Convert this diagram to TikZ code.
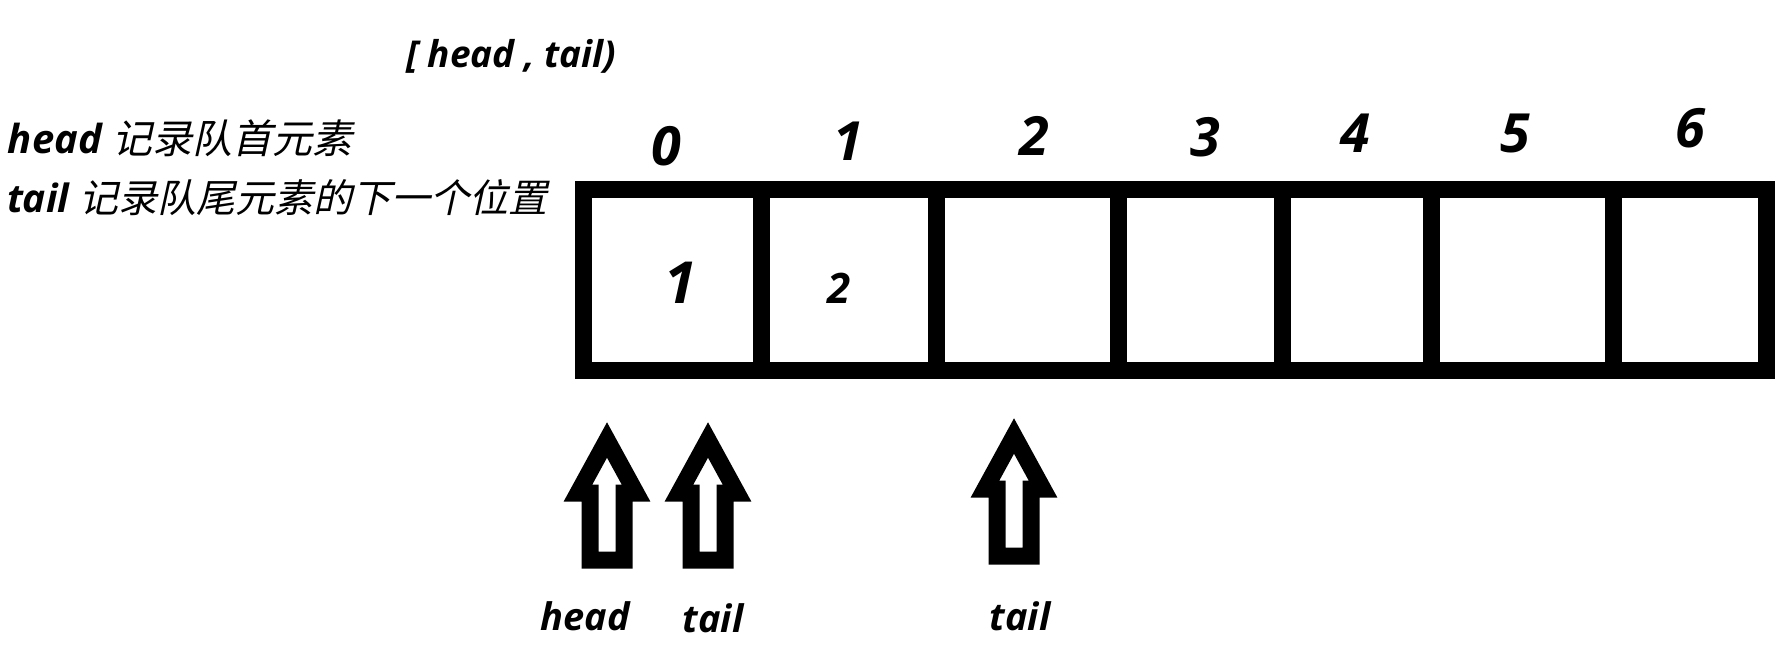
\documentclass[tikz,border=0pt]{standalone}
\usepackage{fontspec}
\setmainfont{Open Sans}
\newfontfamily\cjk[FakeSlant=0.22]{Noto Sans CJK SC}
\begin{document}
\begin{tikzpicture}[x=1pt,y=-1pt,
  cellbox/.style={draw=black, line width=17pt, minimum height=181.5pt, inner sep=0pt, outer sep=0pt, anchor=center},
  txt/.style={inner sep=0pt, outer sep=0pt, anchor=base, font=\fontsize{#1}{#1}\selectfont\bfseries\itshape},
  uparrow/.pic={\draw[line width=17pt, line join=miter] (0,0) -- (-29,53) -- (-17,53) -- (-17,120) -- (17,120) -- (17,53) -- (29,53) -- cycle;}
]
\useasboundingbox (0,0) rectangle (1790,656);
\fill[white] (0,0) rectangle (1790,656);

% title
\node[txt=37] (range) at (511,67) {[ head , tail)};

% legend
\node[txt=40, anchor=base west] (l1) at (8,153) {head {\cjk\mdseries 记录队首元素}};
\node[txt=39, anchor=base west] (l2) at (7,212) {tail {\cjk\mdseries 记录队尾元素的下一个位置}};

% cells
\node[cellbox, minimum width=178pt] (c0) at (672,279.75) {};
\node[cellbox, minimum width=175pt] (c1) at (848.5,279.75) {};
\node[cellbox, minimum width=182pt] (c2) at (1027,279.75) {};
\node[cellbox, minimum width=164pt] (c3) at (1200,279.75) {};
\node[cellbox, minimum width=149pt] (c4) at (1356.5,279.75) {};
\node[cellbox, minimum width=182pt] (c5) at (1522,279.75) {};
\node[cellbox, minimum width=153pt] (c6) at (1689.5,279.75) {};

% values
\node[txt=58] (v0) at (680,303) {1};
\node[txt=42] (v1) at (839,303) {2};

% indices
\node[txt=54] (i0) at (666,165) {0};
\node[txt=54] (i1) at (848,160) {1};
\node[txt=54] (i2) at (1034,155) {2};
\node[txt=54] (i3) at (1205,156) {3};
\node[txt=54] (i4) at (1355,152) {4};
\node[txt=54] (i5) at (1515,152) {5};
\node[txt=54] (i6) at (1690,147) {6};

% pointer arrows
\pic (a1) at (607,440) {uparrow};
\pic (a2) at (708,440) {uparrow};
\pic (a3) at (1014,436) {uparrow};

% pointer labels
\node[txt=38] (p1) at (585,630) {head};
\node[txt=38] (p2) at (713,632) {tail};
\node[txt=38] (p3) at (1020,630) {tail};
\end{tikzpicture}
\end{document}
